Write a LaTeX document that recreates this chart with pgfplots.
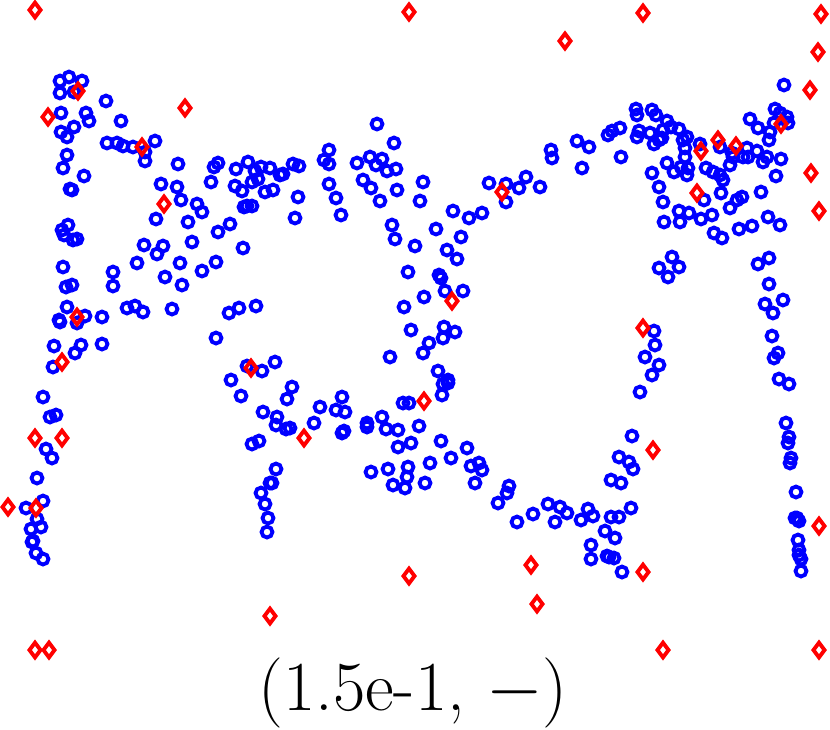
\documentclass[border=0pt]{standalone}
\usepackage{pgfplots}
\pgfplotsset{compat=1.18}

\begin{document}
\begin{tikzpicture}
\begin{axis}[name=ax,width=8.3cm,height=7.29cm,scale only axis,hide axis,
  xmin=0,xmax=830,ymin=0,ymax=729,y dir=reverse,clip=false]
% blue circles (pixel positions)
\addplot[only marks,mark=o,mark size=1.55pt,line width=1.1pt,color={rgb,255:red,0;green,0;blue,255}] coordinates {
(60,81)(69,77)(82,81)(60,93)(74,92)(106,101)(61,113)(86,113)(89,121)(121,121)
(61,132)(74,127)(67,137)(107,143)(117,143)(123,146)(133,147)(145,152)(145,161)(155,141)
(67,155)(63,168)(84,176)(70,189)(72,190)(178,164)(161,184)(177,187)(181,200)(197,204)
(202,212)(156,219)(188,222)(214,167)(218,163)(211,182)(236,169)(248,162)(255,171)(261,167)
(270,168)(280,175)(235,186)(242,191)(252,182)(258,179)(265,192)(273,190)(244,207)(252,206)
(247,206)(230,224)(218,232)(243,248)(68,225)(62,230)(64,235)(73,240)(77,239)(144,245)
(163,246)(157,254)(192,242)(180,263)(216,262)(202,271)(137,263)(165,277)(182,285)(63,267)
(113,272)(113,286)(66,287)(72,285)(67,307)(127,308)(135,306)(143,312)(172,309)(229,313)
(239,308)(256,306)(59,320)(85,316)(102,317)
(60,322)(77,323)(216,338)(54,346)(81,345)(75,353)(102,344)(53,367)(247,366)(262,371)
(275,362)(231,380)(241,396)(43,397)(50,417)(56,415)(263,412)(277,417)(276,425)(252,444)
(259,441)(46,449)(52,458)(37,478)(43,501)(26,508)(37,519)(31,529)(41,527)(32,542)
(33,541)(36,553)(43,559)(276,469)(270,483)(272,483)(261,493)(265,504)(268,518)(267,532)
(377,124)(394,143)(329,150)(324,160)(329,164)(293,164)(299,166)(283,174)(357,163)(370,157)
(376,165)(382,159)(387,171)(396,169)(329,184)(363,180)(371,188)(397,190)(423,182)(298,197)
(336,198)(295,218)(341,215)(380,201)(420,201)(392,225)(395,239)(415,246)(436,229)(453,211)
(469,218)(482,213)(489,183)(506,184)(506,202)(519,188)(526,177)(540,187)(461,237)(447,250)
(457,259)(408,272)(439,275)(441,278)(445,291)(463,291)(424,297)(404,307)(551,150)(552,158)
(577,141)(589,147)(582,168)(621,157)(608,135)(612,131)(620,128)(636,109)(637,115)(637,137)
(639,131)(652,110)(656,115)(650,133)(654,144)(659,140)(667,121)(663,130)(671,127)(662,138)
(679,129)(687,137)(683,140)(685,148)(685,157)(700,144)(720,147)(667,163)(674,172)(681,167)
(688,168)(687,175)(652,173)(659,187)(663,202)(679,211)(689,213)(680,222)(664,222)(701,219)
(712,215)(704,200)(706,168)(713,172)(720,175)(723,180)(721,193)(730,165)(733,157)(743,157)
(748,157)(737,200)(742,197)(730,208)(714,233)(722,238)(739,229)(752,226)(761,192)(768,217)
(780,225)(757,151)(763,162)(767,157)(781,159)(776,176)(750,119)(758,128)(770,132)(769,140)
(775,109)(780,113)(787,117)(788,123)(774,123)(784,85)(672,257)(659,268)(679,267)(668,277)
(758,264)(769,258)(769,284)(765,304)(783,300)(773,313)(732,153)(747,148)
(411,330)(444,327)(443,338)(455,332)(429,343)(423,353)(390,357)(438,371)(448,380)(443,384)
(442,395)(448,383)(292,387)(287,399)(320,407)(342,397)(336,410)(345,412)(314,423)(286,429)
(290,428)(342,433)(344,431)(367,423)(367,427)(382,417)(386,429)(398,430)(403,403)(409,403)
(419,426)(411,443)(398,447)(441,441)(467,448)(451,458)(430,463)(471,466)(479,463)(482,470)
(371,472)(388,469)(408,467)(407,477)(393,485)(405,488)(425,483)(475,483)(509,486)(507,493)
(498,503)(517,522)(533,514)(548,504)(555,522)
(654,331)(655,345)(645,357)(659,365)(652,375)(640,392)(772,336)(778,353)(774,358)(779,379)
(789,384)(786,423)(789,437)(788,443)(791,458)(790,463)(796,492)(795,518)(799,521)(797,518)
(798,540)(799,550)(799,555)(801,559)(801,571)(632,436)(619,457)(629,462)(633,469)(611,480)
(621,483)(631,508)(611,517)(619,517)(588,509)(593,516)(581,520)(560,507)(567,513)(605,531)
(615,538)(591,545)(591,559)(607,556)(609,557)(614,558)(622,572)
};
% red diamonds
\addplot[only marks,mark=diamond,mark size=2.1pt,line width=1.1pt,color={rgb,255:red,255;green,0;blue,0}] coordinates {
(35,10)(409,12)(643,13)(821,14)(565,41)(818,52)(810,90)(185,108)(48,117)(78,91)
(142,147)(164,204)(77,317)(62,362)(251,368)(304,438)(424,401)(452,301)(502,192)(697,193)
(718,140)(736,146)(701,151)(781,124)(811,173)(819,211)(643,328)(653,450)(35,438)(62,438)
(8,507)(36,508)(409,576)(531,565)(537,604)(643,572)(819,526)(270,616)(35,650)(49,650)
(663,650)(819,650)
};
\node[anchor=base,font=\fontsize{20}{24}\selectfont] at (axis cs:413,710) {(1.5e-1, $-$)};
\end{axis}
\pgfresetboundingbox
\path[use as bounding box] (ax.south west) rectangle (ax.north east);
\end{tikzpicture}
\end{document}
